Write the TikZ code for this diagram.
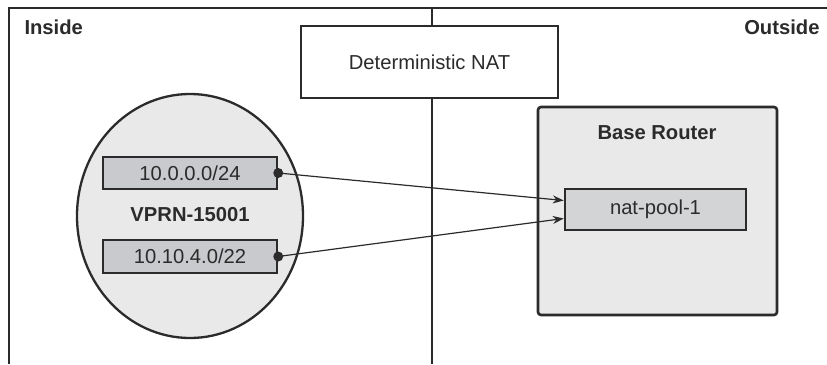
\documentclass[tikz,border=0pt]{standalone}
\usepackage{fontspec}
\setmainfont{Liberation Sans}
\usetikzlibrary{arrows.meta,shapes.geometric}
\definecolor{ink}{HTML}{2B2B2B}
\definecolor{zonefill}{HTML}{E9E9E9}
\definecolor{addrfill}{HTML}{C8CACD}
\definecolor{poolfill}{HTML}{D3D4D6}
\begin{document}
\begin{tikzpicture}[x=1pt,y=-1pt,
  every node/.style={text=ink, font=\fontsize{20.2}{24}\selectfont},
  frameline/.style={draw=ink, line width=2.9pt},
  zonelabel/.style={font=\fontsize{20.2}{24}\selectfont\bfseries},
  natbox/.style={draw=ink, line width=2.6pt, fill=white, inner sep=0pt},
  addrbox/.style={draw=ink, line width=2.5pt, fill=addrfill, inner sep=0pt,
    minimum width=174pt, minimum height=32pt},
  poolbox/.style={draw=ink, line width=2.5pt, fill=poolfill, inner sep=0pt,
    minimum width=181pt, minimum height=41pt},
  link/.style={draw=ink, line width=1.2pt, -{Stealth[length=11pt,width=8pt]}},
  dot/.style={fill=ink}
]
\useasboundingbox (0,0) rectangle (827,364);

% outer frame and Inside/Outside divider
\draw[frameline] (9,364) -- (9,8) -- (827,8);
\draw[frameline] (432,8) -- (432,364);

\node[zonelabel, anchor=base west] (inside) at (21,34) {Inside};
\node[zonelabel, anchor=base east] (outside) at (823,34) {Outside};

% NAT box across the divider
\node[natbox, minimum width=257pt, minimum height=72pt] (nat) at (429.5,62) {Deterministic NAT};

% VPRN on the inside
\node[ellipse, draw=ink, line width=2.3pt, fill=zonefill, inner sep=0pt,
  minimum width=226pt, minimum height=244pt] (vprn) at (190,216) {};
\node[addrbox] (a1) at (190,173) {10.0.0.0/24};
\node[zonelabel] (vprnlabel) at (190,215) {VPRN-15001};
\node[addrbox, minimum height=33pt] (a2) at (190,256.5) {10.10.4.0/22};

% Base router on the outside
\node[draw=ink, line width=2.6pt, fill=zonefill, rounded corners=3pt,
  minimum width=239pt, minimum height=208pt] (base) at (657.5,211) {};
\node[zonelabel] (baselabel) at (657,133) {Base Router};
\node[poolbox] (pool) at (655.5,209.5) {nat-pool-1};

% mappings from the prefixes to the pool
\fill[dot] (a1.east) circle (5pt);
\fill[dot] (a2.east) circle (5pt);
\draw[link] (a1.east) -- ([yshift=9pt]pool.west);
\draw[link] (a2.east) -- ([yshift=-9pt]pool.west);
\end{tikzpicture}
\end{document}
